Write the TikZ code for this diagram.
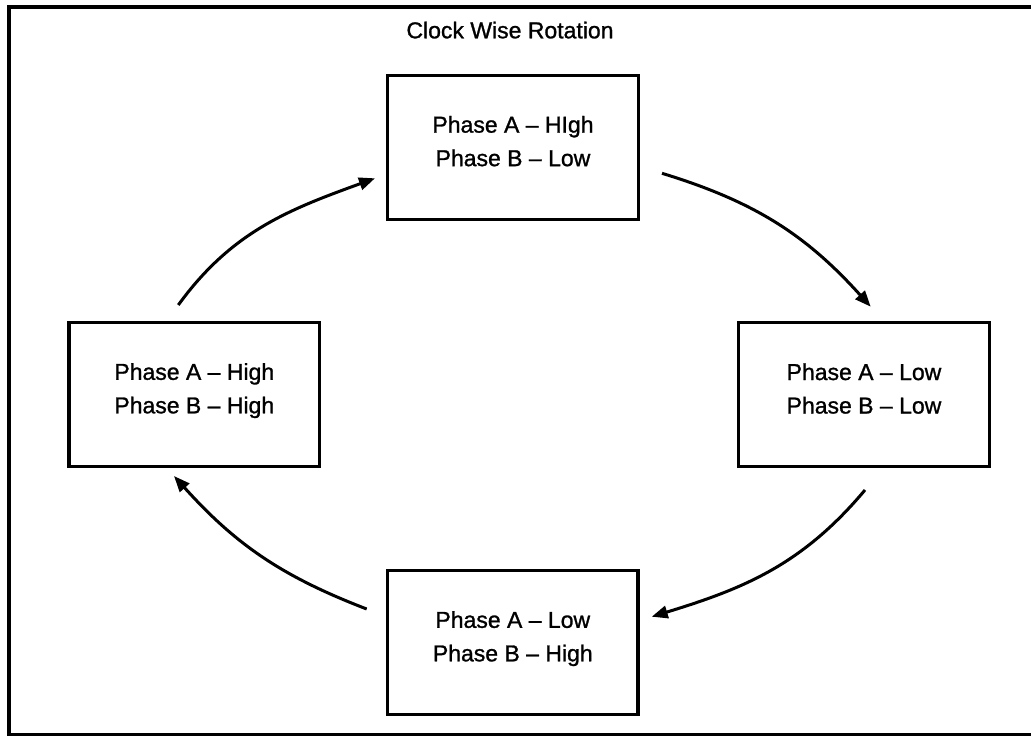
\documentclass[tikz,border=0pt]{standalone}
\usepackage{fontspec}
\setmainfont{Liberation Sans}
% slightly heavier face for all labels
\newfontfamily\labelfont{Liberation Sans}[FakeBold=1.1,Ligatures=TeX]
\usetikzlibrary{arrows.meta}
% zero-width strut that fixes the depth of the last text line in each box
\newcommand\rowdepth{\rule[-12.5pt]{0pt}{12.5pt}}
\begin{document}
\begin{tikzpicture}[x=1pt,y=1pt,
  state/.style={draw, line width=3.3pt, minimum width=250.5pt,
    minimum height=144pt, inner sep=0pt, align=center,
    font=\labelfont\fontsize{23}{33.5}\selectfont},
  flow/.style={line width=3pt, -{Triangle[length=16pt,width=12.5pt]}},
  outline/.style={line width=3.7pt}]
\useasboundingbox (0,0) rectangle (1031,-736);
\clip (0,0) rectangle (1031,-736);

% outer frame (its right side runs past the page edge)
\draw[outline] (8.7,-7) rectangle (1045,-734.5);

% title
\node[font=\labelfont\fontsize{23}{28}\selectfont, anchor=base] (title) at (510,-38.3) {Clock Wise Rotation};

% the four states
\node[state] (top)    at (513,-147.3)   {Phase A – HIgh\\Phase B – Low\rowdepth};
\node[state] (right)  at (864,-394.7)   {Phase A – Low\\Phase B – Low\rowdepth};
\node[state] (bottom) at (512.8,-642.5) {Phase A – Low\\Phase B – High\rowdepth};
\node[state] (left)   at (194.3,-394.5) {Phase A – High\\Phase B – High\rowdepth};

% arrow end points in the gaps between the boxes
\coordinate (lt1) at (178.3,-305);
\coordinate (lt2) at (375,-178.3);
\coordinate (tr1) at (662,-173.3);
\coordinate (tr2) at (870.7,-306.7);
\coordinate (rb1) at (865,-490);
\coordinate (rb2) at (651.7,-616.7);
\coordinate (bl1) at (366.7,-609);
\coordinate (bl2) at (174,-476);

% clockwise transitions
\draw[flow] (lt1) to[out=54,in=200]  (lt2);
\draw[flow] (tr1) to[out=-17,in=132] (tr2);
\draw[flow] (rb1) to[out=230,in=17]  (rb2);
\draw[flow] (bl1) to[out=159,in=-48] (bl2);
\end{tikzpicture}
\end{document}
